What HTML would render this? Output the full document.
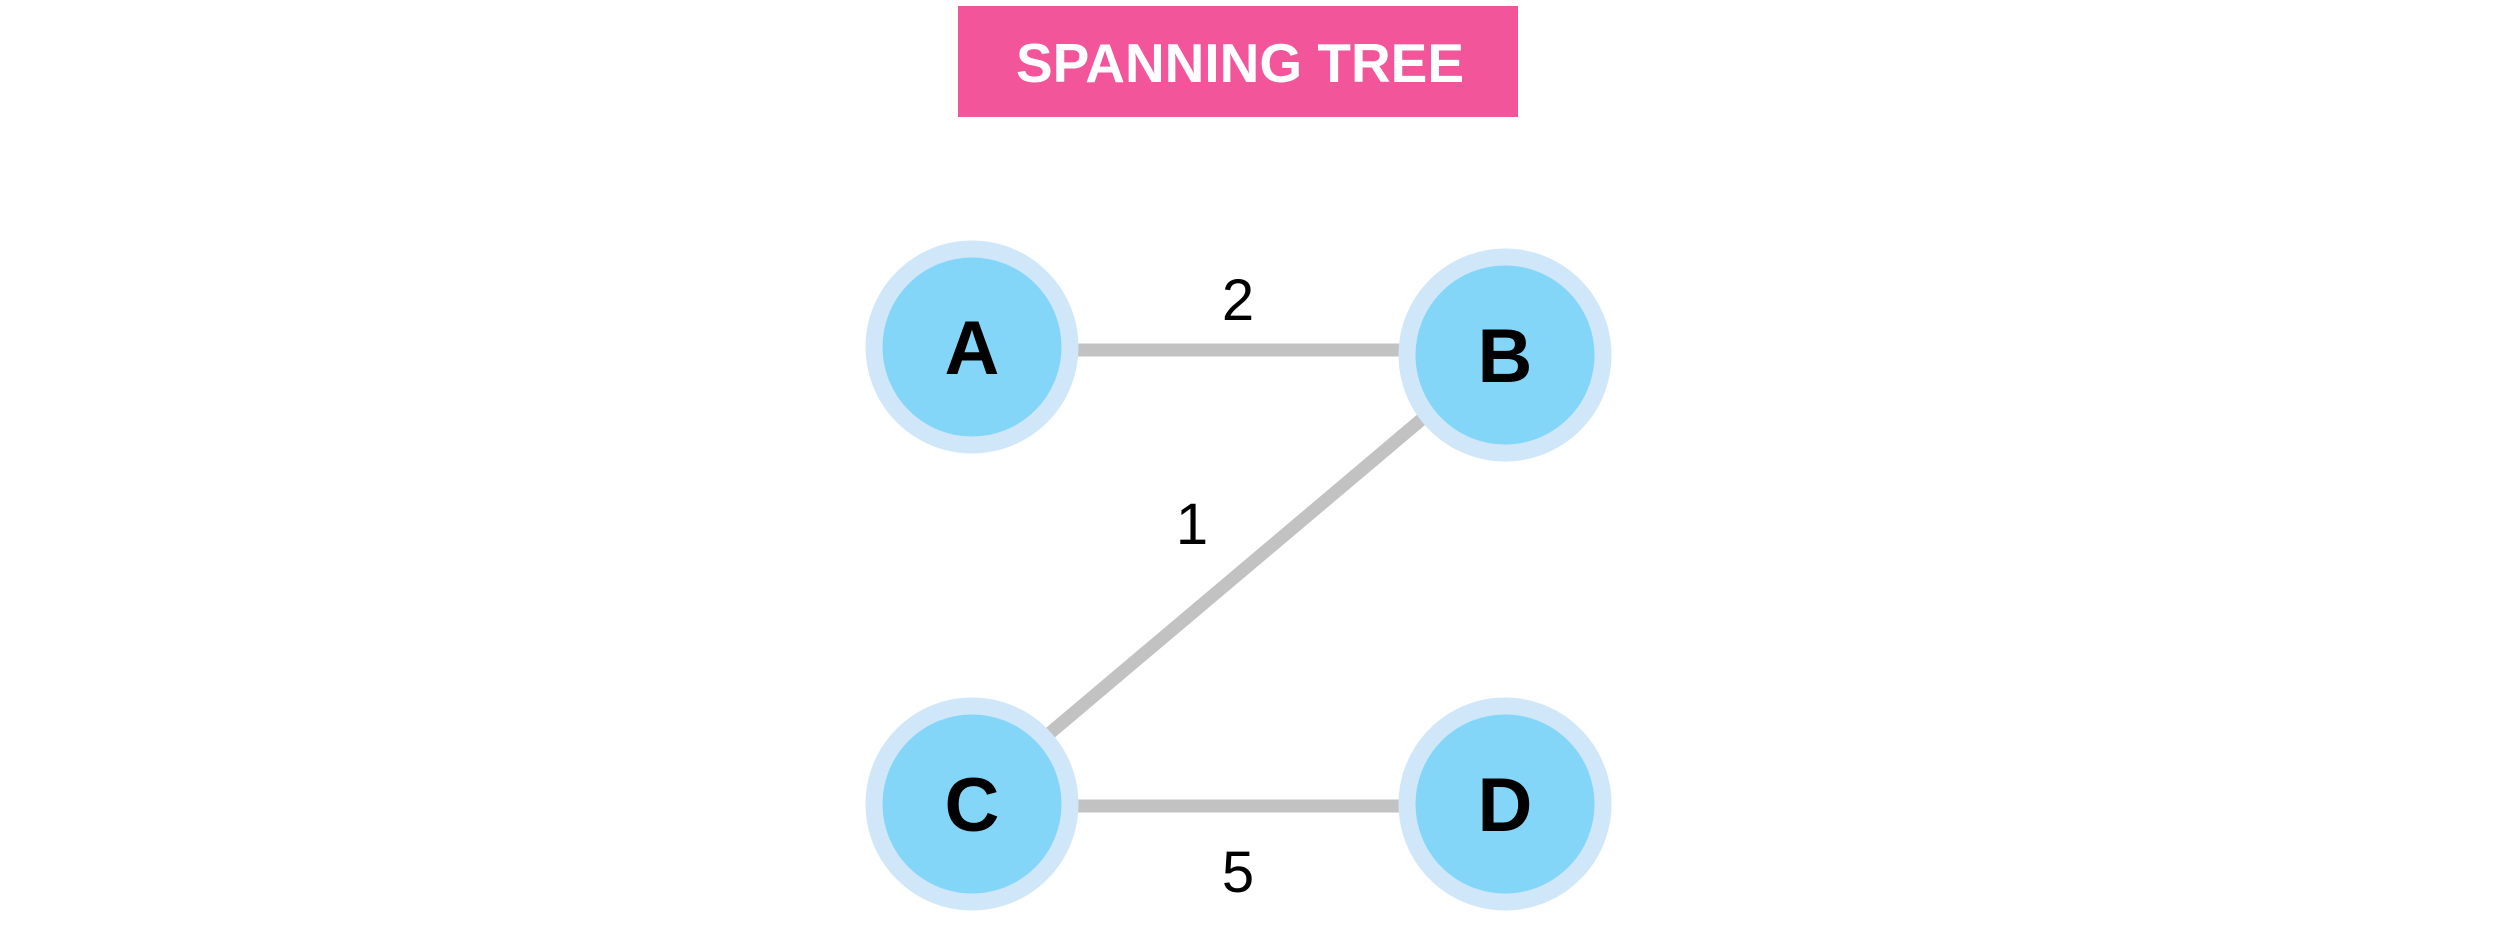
<!DOCTYPE html>
<html><head><style>
html,body{margin:0;padding:0;background:#fff;}
body{width:2507px;height:928px;position:relative;overflow:hidden;}
</style></head><body>
<svg width="2507" height="928" style="position:absolute;left:0;top:0">
<rect x="958" y="6" width="560" height="111" fill="#f2559a"/>
<text x="1240" y="82" text-anchor="middle" font-family="Liberation Sans, sans-serif" font-weight="bold" font-size="55" fill="#fff" textLength="448" lengthAdjust="spacingAndGlyphs">SPANNING TREE</text>
<g stroke="#c2c2c2" stroke-width="13">
<line x1="1070" y1="350" x2="1410" y2="350"/>
<line x1="1070" y1="806" x2="1410" y2="806"/>
<line x1="1050" y1="733" x2="1428" y2="414"/>
</g>
<g fill="#84d6f9" stroke="#cfe7f9" stroke-width="17">
<circle cx="972" cy="347" r="98"/>
<circle cx="1505" cy="355" r="98"/>
<circle cx="972" cy="804" r="98"/>
<circle cx="1505" cy="804" r="98"/>
</g>
<g font-family="Liberation Sans, sans-serif" font-size="76" font-weight="bold" fill="#000" text-anchor="middle">
<text x="972" y="374">A</text>
<text x="1505" y="382">B</text>
<text x="972" y="831">C</text>
<text x="1505" y="831">D</text>
</g>
<g font-family="Liberation Sans, sans-serif" font-size="58" fill="#000" text-anchor="middle">
<text x="1238" y="320">2</text>
<text x="1192" y="544">1</text>
<text x="1238" y="892">5</text>
</g>
</svg>
</body></html>
